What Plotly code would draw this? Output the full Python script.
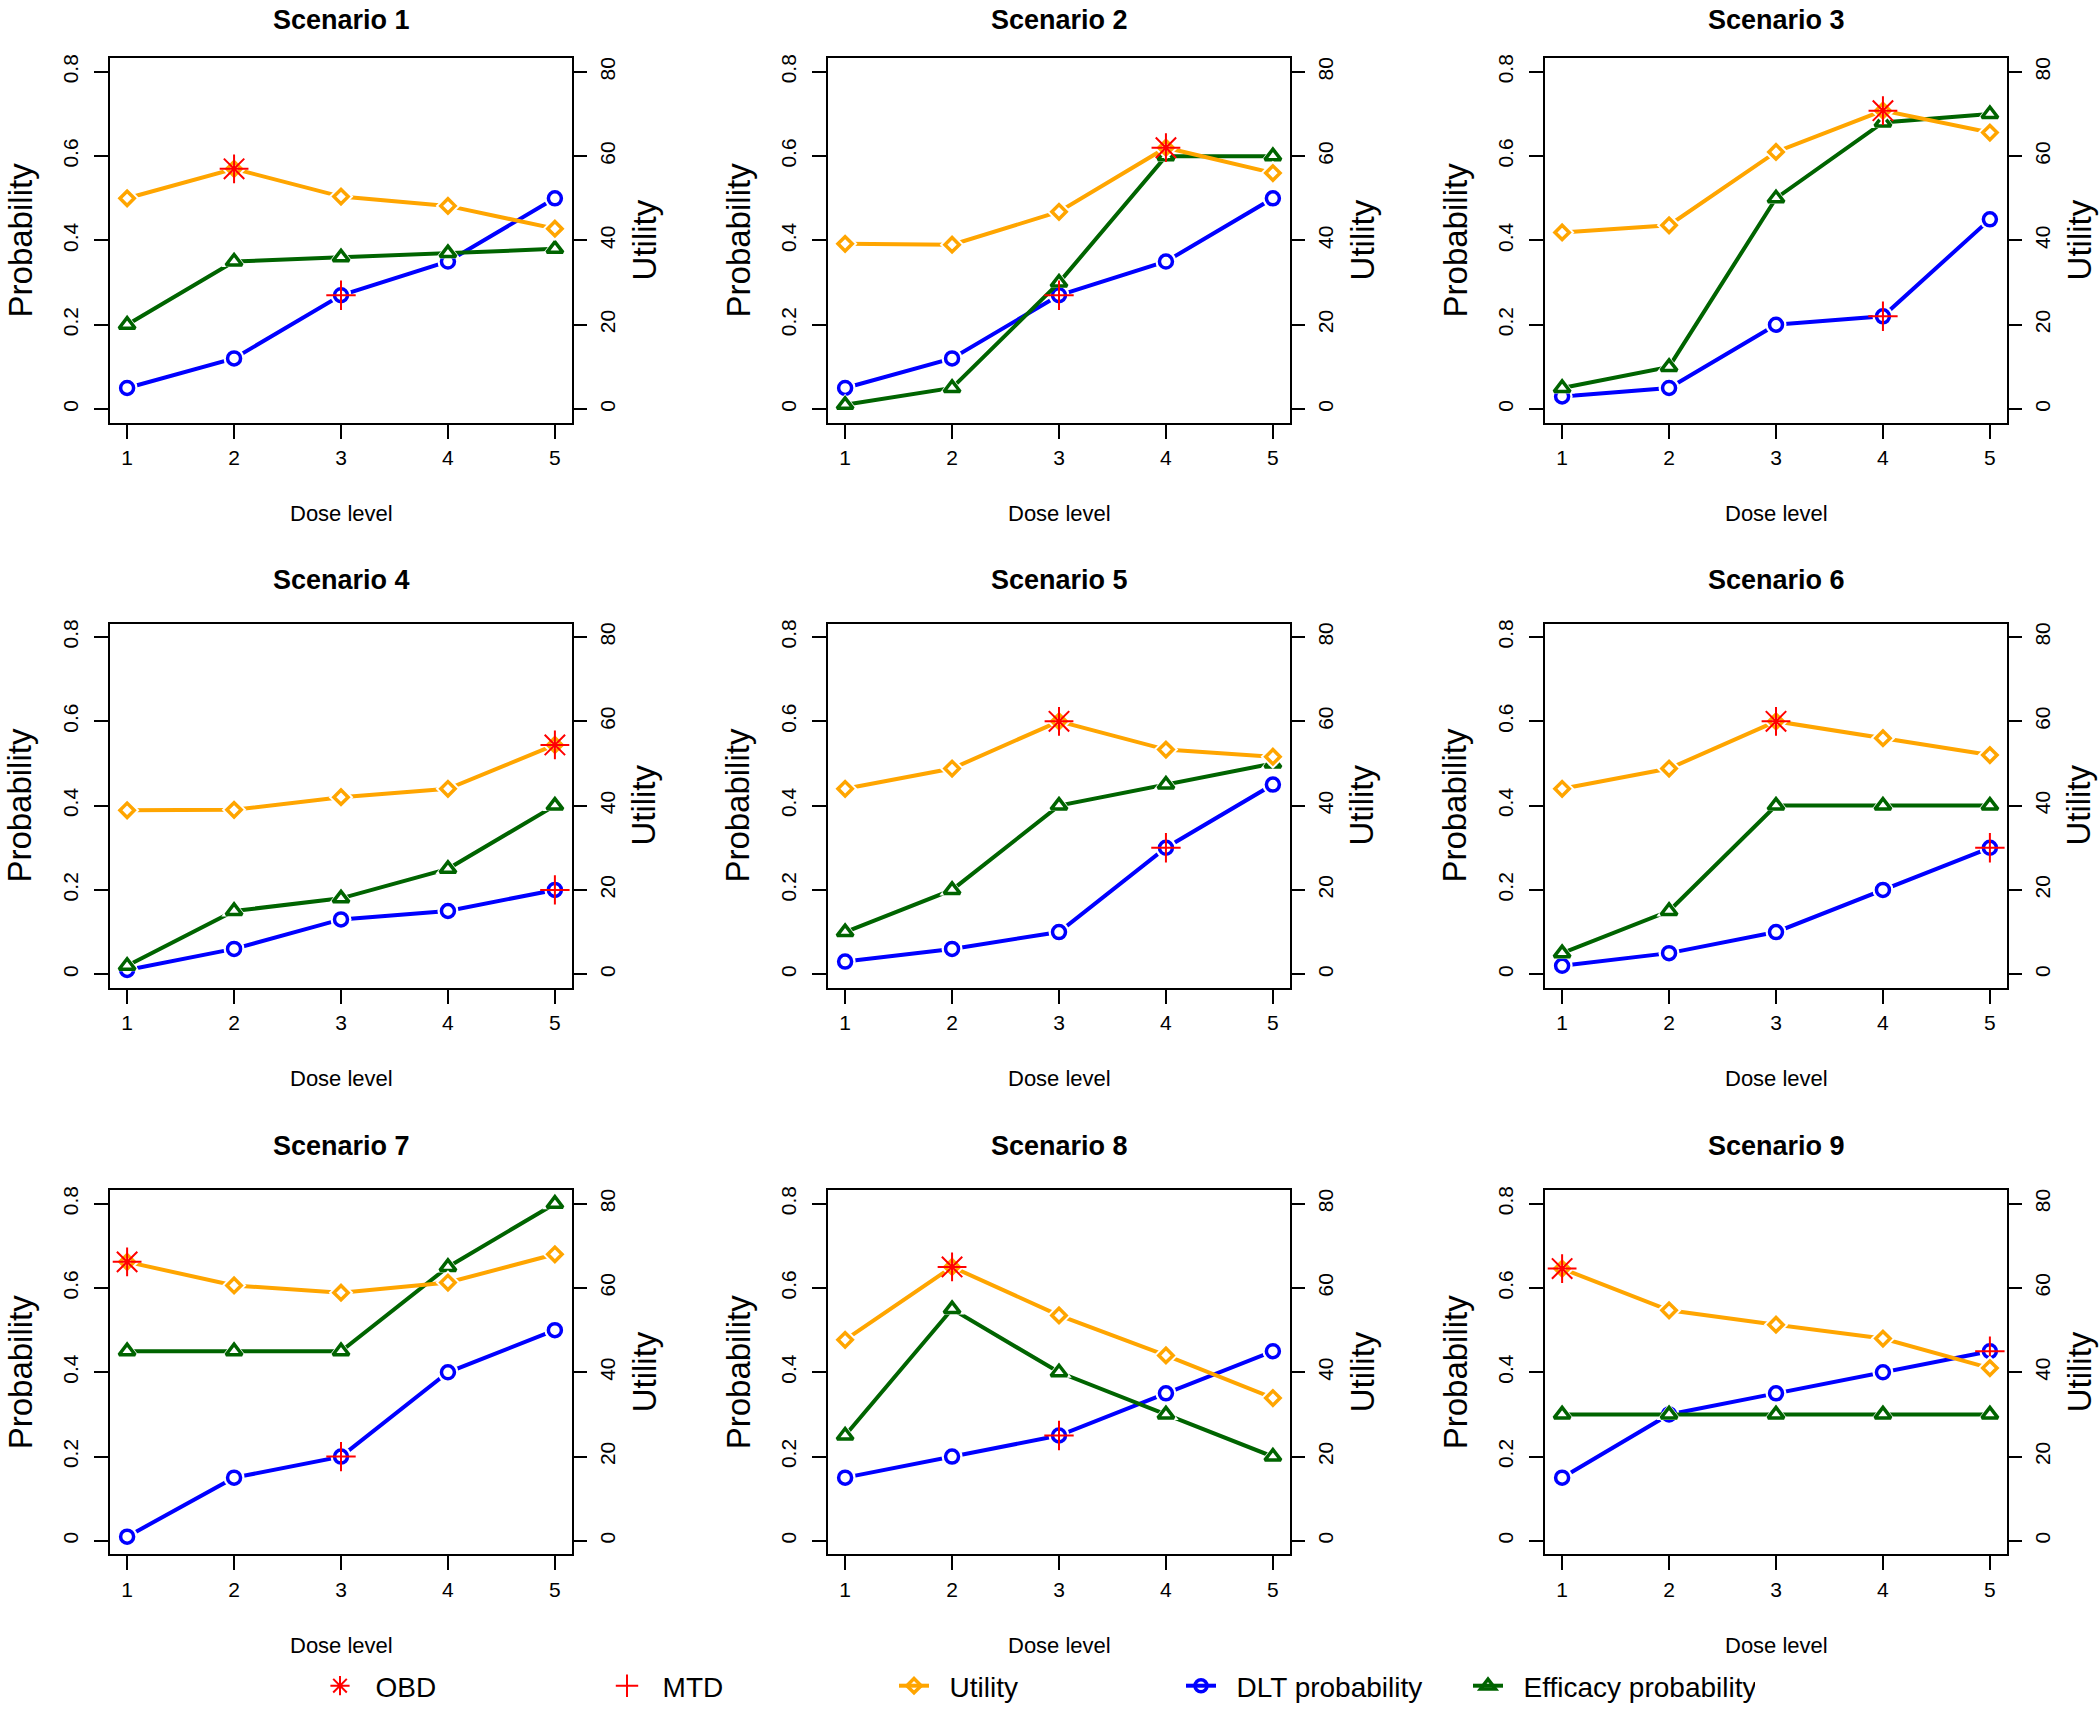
import plotly.graph_objects as go

# ---------------- data ----------------
doses = [1, 2, 3, 4, 5]
dose_tick_labels = ["1", "2", "3", "4", "5"]
scenario_titles = ["Scenario 1", "Scenario 2", "Scenario 3",
                   "Scenario 4", "Scenario 5", "Scenario 6",
                   "Scenario 7", "Scenario 8", "Scenario 9"]

utility = [
    [50.0, 57.0, 50.4, 48.2, 42.8],
    [39.2, 39.0, 46.8, 62.0, 56.0],
    [41.9, 43.6, 61.0, 70.8, 65.6],
    [38.9, 39.0, 42.0, 44.0, 54.4],
    [44.0, 48.8, 60.0, 53.3, 51.6],
    [44.0, 48.8, 60.0, 56.0, 52.0],
    [66.2, 60.6, 58.9, 61.3, 68.0],
    [47.7, 65.0, 53.5, 44.0, 33.9],
    [64.6, 54.7, 51.3, 48.0, 41.0],
]
dlt_prob = [
    [0.05, 0.12, 0.27, 0.35, 0.50],
    [0.05, 0.12, 0.27, 0.35, 0.50],
    [0.03, 0.05, 0.20, 0.22, 0.45],
    [0.01, 0.06, 0.13, 0.15, 0.20],
    [0.03, 0.06, 0.10, 0.30, 0.45],
    [0.02, 0.05, 0.10, 0.20, 0.30],
    [0.01, 0.15, 0.20, 0.40, 0.50],
    [0.15, 0.20, 0.25, 0.35, 0.45],
    [0.15, 0.30, 0.35, 0.40, 0.45],
]
eff_prob = [
    [0.20, 0.35, 0.36, 0.37, 0.38],
    [0.01, 0.05, 0.30, 0.60, 0.60],
    [0.05, 0.10, 0.50, 0.68, 0.70],
    [0.02, 0.15, 0.18, 0.25, 0.40],
    [0.10, 0.20, 0.40, 0.45, 0.50],
    [0.05, 0.15, 0.40, 0.40, 0.40],
    [0.45, 0.45, 0.45, 0.65, 0.80],
    [0.25, 0.55, 0.40, 0.30, 0.20],
    [0.30, 0.30, 0.30, 0.30, 0.30],
]
obd_dose = [2, 4, 4, 5, 3, 3, 1, 2, 1]
mtd_dose = [3, 3, 4, 5, 4, 5, 3, 3, 5]

prob_ticks = [0, 0.2, 0.4, 0.6, 0.8]
prob_tick_labels = ["0", "0.2", "0.4", "0.6", "0.8"]
util_ticks = [0, 20, 40, 60, 80]
util_tick_labels = ["0", "20", "40", "60", "80"]

legend_names = ["OBD", "MTD", "Utility", "DLT probability", "Efficacy probability"]

# ---------------- style ----------------
W, H = 2100, 1711
FONT = "Liberation Sans, Arial, sans-serif"
ORANGE = "#FFA500"
BLUE = "#0000FF"
GREEN = "#006400"
RED = "#FF0000"

col_left = [110, 828, 1545]
row_top = [54.5, 621, 1189]
BOX_W, BOX_H = 462, 365

fig = go.Figure()
layout = dict(width=W, height=H, margin=dict(l=0, r=0, t=0, b=0, pad=0),
              paper_bgcolor="white", plot_bgcolor="white",
              font=dict(family=FONT, color="black"),
              showlegend=True)
annotations = []

def ax_common():
    return dict(showgrid=False, zeroline=False, ticks="outside", ticklen=14,
                tickwidth=2, tickcolor="black", linecolor="black",
                tickfont=dict(family=FONT, size=21, color="black"))

series_style = [
    # (values key, color, symbol, size, axis)
    ("dlt", BLUE, "circle", 13, "left"),
    ("eff", GREEN, "triangle-up", 14, "left"),
    ("util", ORANGE, "diamond", 11, "right"),
]

for k in range(9):
    r, c = divmod(k, 3)
    left = col_left[c]
    top = row_top[r]
    x0, x1 = left / W, (left + BOX_W) / W
    y1 = (H - top) / H
    y0 = (H - top - BOX_H) / H
    xi = k + 1
    xname = "xaxis" if xi == 1 else f"xaxis{xi}"
    yname = "yaxis" if xi == 1 else f"yaxis{xi}"
    ryi = k + 10
    xref = "x" if xi == 1 else f"x{xi}"
    yref = "y" if xi == 1 else f"y{xi}"
    ryref = f"y{ryi}"

    xa = ax_common()
    xa.update(domain=[x0, x1], range=[0.84, 5.16], tickvals=doses,
              ticktext=dose_tick_labels, anchor=yref, showline=True,
              linewidth=2, mirror=True, ticklabelstandoff=1)
    layout[xname] = xa

    ya = ax_common()
    ya.update(domain=[y0, y1], range=[-0.032, 0.832], tickvals=prob_ticks,
              ticktext=prob_tick_labels, anchor=xref, showline=True,
              linewidth=2, mirror=True, tickangle=-90, ticklabelstandoff=8)
    layout[yname] = ya

    ry = ax_common()
    ry.update(range=[-3.2, 83.2], tickvals=util_ticks, ticktext=util_tick_labels,
              overlaying=yref, side="right", anchor=xref, showline=False,
              tickangle=-90, ticklabelstandoff=3)
    layout[f"yaxis{ryi}"] = ry

    data_map = {"dlt": dlt_prob[k], "eff": eff_prob[k], "util": utility[k]}
    for key, color, symbol, size, side in series_style:
        vals = data_map[key]
        ya_ref = yref if side == "left" else ryref
        # connecting line
        fig.add_trace(go.Scatter(x=doses, y=vals, xaxis=xref, yaxis=ya_ref,
                                 mode="lines", line=dict(color=color, width=4),
                                 showlegend=False, hoverinfo="skip"))
        # white gap around points (type = "b" look)
        fig.add_trace(go.Scatter(x=doses, y=vals, xaxis=xref, yaxis=ya_ref,
                                 mode="markers",
                                 marker=dict(symbol=symbol, size=size + 8,
                                             color="white", line=dict(width=0)),
                                 showlegend=False, hoverinfo="skip"))
        # open point
        fig.add_trace(go.Scatter(x=doses, y=vals, xaxis=xref, yaxis=ya_ref,
                                 mode="markers",
                                 marker=dict(symbol=symbol, size=size,
                                             color="white",
                                             line=dict(color=color, width=3.5)),
                                 showlegend=False))

    # MTD marker on DLT probability
    m = mtd_dose[k]
    fig.add_trace(go.Scatter(x=[m], y=[dlt_prob[k][m - 1]], xaxis=xref, yaxis=yref,
                             mode="markers",
                             marker=dict(symbol="cross-thin-open", size=21, color=RED,
                                         line=dict(color=RED, width=2)),
                             showlegend=False))
    # OBD marker on utility
    o = obd_dose[k]
    fig.add_trace(go.Scatter(x=[o], y=[utility[k][o - 1]], xaxis=xref, yaxis=ryref,
                             mode="markers",
                             marker=dict(symbol="asterisk-open", size=24, color=RED,
                                         line=dict(color=RED, width=2)),
                             showlegend=False))

    cx = (left + BOX_W / 2) / W
    cy = (H - top - BOX_H / 2) / H
    if r == 0:
        title_pos = dict(y=1.0, yanchor="top")
    else:
        title_pos = dict(y=(H - (top - 44)) / H, yanchor="middle")
    annotations.append(dict(text="<b>" + scenario_titles[k] + "</b>", xref="paper", yref="paper",
                            x=cx, xanchor="center", borderpad=0,
                            showarrow=False, font=dict(family=FONT, size=27, color="black"),
                            **title_pos))
    annotations.append(dict(text="Dose level", xref="paper", yref="paper",
                            x=cx, y=(H - (top + BOX_H + 91)) / H, xanchor="center",
                            yanchor="middle", showarrow=False,
                            font=dict(family=FONT, size=22, color="black")))
    annotations.append(dict(text="Probability", xref="paper", yref="paper",
                            x=(left - 90) / W, y=cy, xanchor="center", yanchor="middle",
                            textangle=-90, showarrow=False,
                            font=dict(family=FONT, size=33, color="black")))
    annotations.append(dict(text="Utility", xref="paper", yref="paper",
                            x=(left + BOX_W + 72) / W, y=cy, xanchor="center",
                            yanchor="middle", textangle=-90, showarrow=False,
                            font=dict(family=FONT, size=33, color="black")))

# ---------------- legend-only entries ----------------
NB = "\u00a0\u00a0"
legend_specs = [
    (legend_names[0], "markers", RED, "asterisk-open", 16, 2),
    (legend_names[1], "markers", RED, "cross-thin-open", 16, 2),
    (legend_names[2], "lines+markers", ORANGE, "diamond-open", 11, 3.5),
    (legend_names[3], "lines+markers", BLUE, "circle-open", 12, 3.5),
    (legend_names[4], "lines+markers", GREEN, "triangle-up-open", 13, 3.5),
]
for name, mode, color, symbol, size, lw in legend_specs:
    fig.add_trace(go.Scatter(x=[None], y=[None], xaxis="x", yaxis="y", mode=mode,
                             name=NB + name,
                             line=dict(color=color, width=4),
                             marker=dict(symbol=symbol, size=size, color=color,
                                         line=dict(color=color, width=lw))))

layout["legend"] = dict(orientation="h", x=320 / W, xanchor="left",
                        y=0, yanchor="bottom",
                        font=dict(family=FONT, size=28, color="black"),
                        entrywidth=242, entrywidthmode="pixels",
                        bgcolor="rgba(0,0,0,0)", borderwidth=0,
                        traceorder="normal")
layout["annotations"] = annotations
fig.update_layout(**layout)

fig.write_html("out.html", config={"displayModeBar": False},
               post_script="document.body.style.margin='0';")
